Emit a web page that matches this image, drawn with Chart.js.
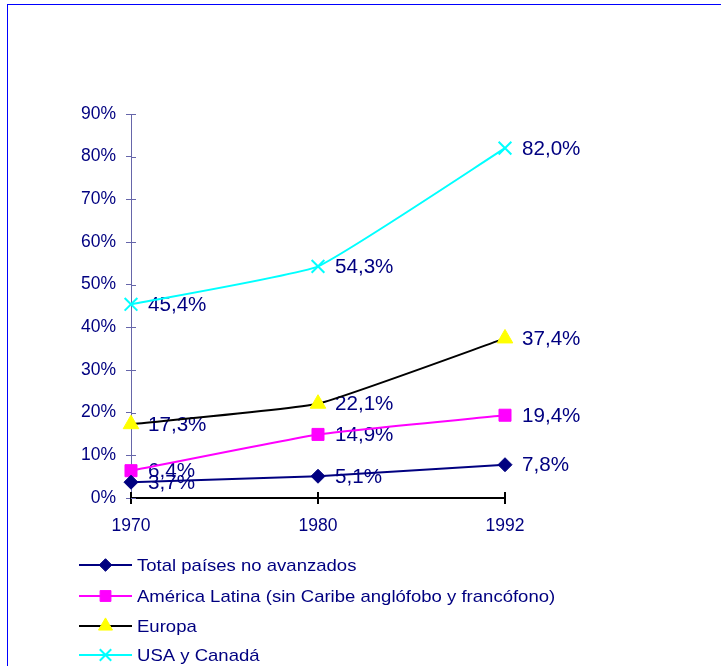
<!DOCTYPE html>
<html>
<head>
<meta charset="utf-8">
<script src="https://cdn.jsdelivr.net/npm/chart.js@4/dist/chart.umd.min.js"></script>
<style>
  html, body { margin: 0; padding: 0; background: #fff; }
  #wrap { position: relative; width: 721px; height: 666px; overflow: hidden; }
  #frame { position: absolute; left: 7px; top: 4px; width: 800px; height: 800px;
           border-top: 1px solid #0000ff; border-left: 1px solid #0000ff; pointer-events: none; }
  canvas { position: absolute; left: 0; top: 0; }
</style>
</head>
<body>
<div id="wrap">
  <canvas id="c" width="721" height="666"></canvas>
  <div id="frame"></div>
</div>
<script>
const categories = ['1970', '1980', '1992'];
const totalNoAvanzados = [3.7, 5.1, 7.8];
const americaLatina = [6.4, 14.9, 19.4];
const europa = [17.3, 22.1, 37.4];
const usaCanada = [45.4, 54.3, 82.0];
const seriesNames = [
  'Total países no avanzados',
  'América Latina (sin Caribe anglófobo y francófono)',
  'Europa',
  'USA y Canadá'
];
const yMin = 0, yMax = 90, yStep = 10;

const FONT = '"Liberation Sans", Arial, sans-serif';
const NAVY = '#000080';
const AXISBLUE = '#6666aa';

function fmt(v) { return v.toFixed(1).replace('.', ',') + '%'; }

const dataLabels = {
  id: 'dataLabels',
  beforeDatasetsDraw(chart) {
    const ctx = chart.ctx;
    ctx.save();
    ctx.font = '20px ' + FONT;
    ctx.fillStyle = NAVY;
    ctx.textAlign = 'left';
    ctx.textBaseline = 'middle';
    chart.data.datasets.forEach((ds, i) => {
      const meta = chart.getDatasetMeta(i);
      meta.data.forEach((pt, j) => {
        ctx.save();
        ctx.translate(pt.x + 17, pt.y + 1);
        ctx.scale(1.03, 1);
        ctx.fillText(fmt(ds.data[j]), 0, 0);
        ctx.restore();
      });
    });
    ctx.restore();
  }
};

const innerTicks = {
  id: 'innerTicks',
  afterDraw(chart) {
    const ctx = chart.ctx;
    const xs = chart.scales.x, ys = chart.scales.y;
    ctx.save();
    ctx.strokeStyle = AXISBLUE;
    ctx.lineWidth = 1;
    ys.ticks.forEach(t => {
      const y = Math.round(ys.getPixelForValue(t.value)) + 0.5;
      ctx.beginPath();
      ctx.moveTo(ys.right, y);
      ctx.lineTo(ys.right + 5, y);
      ctx.stroke();
    });
    ctx.strokeStyle = '#000';
    ctx.lineWidth = 2;
    categories.forEach((c, i) => {
      const x = Math.round(xs.getPixelForValue(i));
      ctx.beginPath();
      ctx.moveTo(x, xs.top);
      ctx.lineTo(x, xs.top - 6);
      ctx.stroke();
    });
    ctx.restore();
  }
};

const customLegend = {
  id: 'customLegend',
  afterDraw(chart) {
    const ctx = chart.ctx;
    const rows = [565, 596, 626, 655];
    ctx.save();
    chart.data.datasets.forEach((ds, i) => {
      const y = rows[i];
      ctx.strokeStyle = ds.borderColor;
      ctx.lineWidth = 2;
      ctx.beginPath();
      ctx.moveTo(79, y);
      ctx.lineTo(132, y);
      ctx.stroke();
      ctx.fillStyle = ds.pointBackgroundColor;
      ctx.strokeStyle = ds.pointBorderColor;
      ctx.lineWidth = ds.pointBorderWidth;
      Chart.helpers.drawPoint(ctx, { pointStyle: ds.pointStyle, radius: ds.pointRadius * 0.9, borderWidth: ds.pointBorderWidth, rotation: 0 }, 105.5, y);
      ctx.fillStyle = NAVY;
      ctx.font = '17px ' + FONT;
      ctx.textAlign = 'left';
      ctx.textBaseline = 'middle';
      ctx.save();
      ctx.translate(137, y + 1);
      ctx.scale(1.09, 1);
      ctx.fillText(ds.label, 0, 0);
      ctx.restore();
    });
    ctx.restore();
  }
};

const TENSION = 0.12;
new Chart(document.getElementById('c'), {
  type: 'line',
  data: {
    labels: categories,
    datasets: [
      { label: seriesNames[0], data: totalNoAvanzados, borderColor: '#000080', borderWidth: 2,
        pointStyle: 'rectRot', pointRadius: 7, pointBackgroundColor: '#000080', pointBorderColor: '#000080', pointBorderWidth: 1, tension: TENSION },
      { label: seriesNames[1], data: americaLatina, borderColor: '#ff00ff', borderWidth: 2,
        pointStyle: 'rect', pointRadius: 8.5, pointBackgroundColor: '#ff00ff', pointBorderColor: '#ff00ff', pointBorderWidth: 1, tension: TENSION },
      { label: seriesNames[2], data: europa, borderColor: '#000000', borderWidth: 2,
        pointStyle: 'triangle', pointRadius: 9, pointBackgroundColor: '#ffff00', pointBorderColor: '#ffff00', pointBorderWidth: 1, tension: TENSION },
      { label: seriesNames[3], data: usaCanada, borderColor: '#00ffff', borderWidth: 2,
        pointStyle: 'crossRot', pointRadius: 9, pointBackgroundColor: '#00ffff', pointBorderColor: '#00ffff', pointBorderWidth: 2, tension: TENSION }
    ]
  },
  options: {
    responsive: false,
    animation: false,
    events: [],
    clip: false,
    layout: { padding: { left: 0, right: 216, top: 114, bottom: 108 } },
    plugins: { legend: { display: false }, tooltip: { enabled: false } },
    scales: {
      x: {
        type: 'category',
        offset: false,
        afterFit(s) { s.height = 60; },
        border: { display: true, color: '#000000', width: 2 },
        grid: { drawOnChartArea: false, drawTicks: true, tickLength: 6, color: '#000000', lineWidth: 2 },
        ticks: { color: NAVY, font: { family: FONT, size: 17.5 }, padding: 12, maxRotation: 0 }
      },
      y: {
        min: yMin, max: yMax,
        afterFit(s) { s.width = 131; },
        border: { display: true, color: AXISBLUE, width: 1 },
        grid: { drawOnChartArea: false, drawTicks: true, tickLength: 5, color: AXISBLUE, lineWidth: 1 },
        ticks: { stepSize: yStep, color: NAVY, font: { family: FONT, size: 17.5 }, padding: 10,
                 callback: v => v + '%' }
      }
    }
  },
  plugins: [dataLabels, innerTicks, customLegend]
});
</script>
</body>
</html>
